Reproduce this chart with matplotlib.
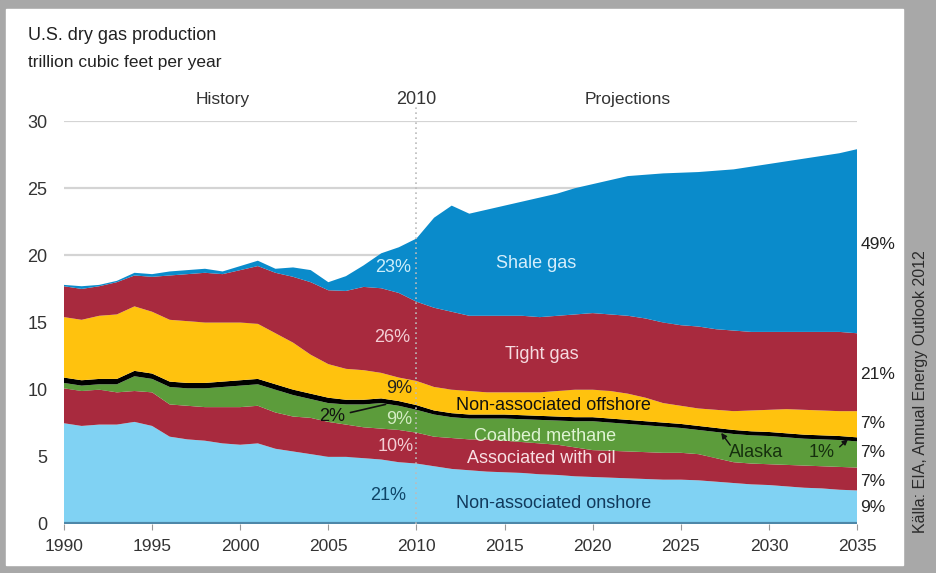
import numpy as np
import matplotlib
matplotlib.use("Agg")
import matplotlib.pyplot as plt
from matplotlib.patches import Rectangle

plt.rcParams['font.family'] = ['Liberation Sans', 'DejaVu Sans']

years = list(range(1990, 2036))

onshore = [7.5, 7.3, 7.4, 7.4, 7.6, 7.3, 6.5, 6.3, 6.2, 6.0,
           5.9, 6.0, 5.6, 5.4, 5.2, 5.0, 5.0, 4.9, 4.8, 4.6,
           4.5, 4.3, 4.1, 4.0, 3.9, 3.85, 3.8, 3.7, 3.65, 3.55,
           3.5, 3.45, 3.4, 3.35, 3.3, 3.3, 3.25, 3.15, 3.05, 2.95,
           2.9, 2.8, 2.7, 2.65, 2.55, 2.5]
assoc_oil = [2.6, 2.6, 2.6, 2.4, 2.3, 2.5, 2.4, 2.5, 2.5, 2.7,
             2.8, 2.8, 2.7, 2.6, 2.7, 2.6, 2.4, 2.3, 2.3, 2.4,
             2.3, 2.2, 2.3, 2.3, 2.4, 2.35, 2.3, 2.3, 2.25, 2.15,
             2.0, 2.0, 2.0, 2.0, 2.0, 2.0, 1.95, 1.75, 1.55, 1.55,
             1.55, 1.6, 1.65, 1.65, 1.7, 1.7]
coalbed = [0.4, 0.4, 0.4, 0.6, 1.1, 1.0, 1.3, 1.3, 1.4, 1.5,
           1.6, 1.6, 1.7, 1.6, 1.4, 1.4, 1.5, 1.7, 1.9, 1.8,
           1.7, 1.65, 1.55, 1.55, 1.55, 1.65, 1.7, 1.75, 1.8, 1.95,
           2.15, 2.1, 2.05, 2.0, 1.95, 1.85, 1.8, 1.95, 2.1, 2.1,
           2.1, 2.05, 2.0, 2.0, 2.0, 1.95]
alaska = [0.4, 0.4, 0.4, 0.4, 0.4, 0.4, 0.4, 0.4, 0.4, 0.4,
          0.4, 0.4, 0.4, 0.4, 0.4, 0.4, 0.35, 0.35, 0.35, 0.35,
          0.35, 0.3, 0.3, 0.3, 0.3, 0.3, 0.3, 0.3, 0.3, 0.3,
          0.3, 0.3, 0.3, 0.3, 0.3, 0.3, 0.3, 0.3, 0.3, 0.3,
          0.3, 0.3, 0.3, 0.3, 0.3, 0.3]
offshore = [4.5, 4.5, 4.7, 4.8, 4.8, 4.6, 4.6, 4.6, 4.5, 4.4,
            4.3, 4.1, 3.8, 3.5, 2.9, 2.5, 2.3, 2.2, 1.9, 1.75,
            1.8, 1.75, 1.75, 1.75, 1.65, 1.65, 1.7, 1.75, 1.9, 2.05,
            2.05, 2.05, 1.95, 1.75, 1.45, 1.35, 1.3, 1.35, 1.4, 1.55,
            1.65, 1.8, 1.85, 1.85, 1.85, 1.95]
tight = [2.3, 2.3, 2.2, 2.4, 2.3, 2.6, 3.3, 3.5, 3.7, 3.6,
         3.9, 4.3, 4.5, 4.9, 5.4, 5.5, 5.8, 6.2, 6.3, 6.3,
         5.9, 5.9, 5.8, 5.6, 5.7, 5.7, 5.7, 5.6, 5.6, 5.6,
         5.7, 5.7, 5.8, 5.9, 6.0, 6.0, 6.1, 6.0, 6.0, 5.85,
         5.8, 5.75, 5.8, 5.85, 5.9, 5.8]
shale = [0.1, 0.2, 0.1, 0.1, 0.2, 0.2, 0.3, 0.3, 0.3, 0.2,
         0.3, 0.4, 0.3, 0.7, 0.9, 0.6, 1.1, 1.6, 2.6, 3.4,
         4.7, 6.7, 7.9, 7.6, 7.9, 8.2, 8.5, 8.9, 9.1, 9.4,
         9.6, 10.0, 10.4, 10.7, 11.1, 11.35, 11.5, 11.8, 12.0, 12.3,
         12.5, 12.7, 12.9, 13.1, 13.3, 13.7]

x_ticks = [1990, 1995, 2000, 2005, 2010, 2015, 2020, 2025, 2030, 2035]
y_ticks = [0, 5, 10, 15, 20, 25, 30]
share_2035 = ["9%", "7%", "7%", "7%", "21%", "49%"]

colors = ['#80D2F3', '#A82A3E', '#5C9C3B', '#000000', '#FFC20E', '#A82A3E', '#0A8BCB']

W, H = 936, 573
fig = plt.figure(figsize=(W / 100, H / 100), dpi=100)

# background frame
bg = fig.add_axes([0, 0, 1, 1], zorder=-10)
bg.set_xlim(0, W); bg.set_ylim(H, 0); bg.axis('off')
bg.add_patch(Rectangle((0, 0), W, H, color='#a8a8a8'))
grad = np.linspace(0.85, 0.55, 50)[None, :].repeat(10, axis=0)
bg.imshow(grad, cmap='gray', vmin=0, vmax=1, extent=(903, W, H, 0), aspect='auto')
topgrad = np.linspace(0.55, 0.8, 10)[:, None].repeat(10, axis=1)
bg.imshow(topgrad, cmap='gray', vmin=0, vmax=1, extent=(0, 903, 9, 0), aspect='auto')
bg.add_patch(Rectangle((6, 9), 897, 556, color='white'))

ax = fig.add_axes([64 / W, 1 - 524 / H, (857 - 64) / W, (524 - 121) / H])
ax.set_xlim(1990, 2035)
ax.set_ylim(0, 30)
ax.set_facecolor('none')
for s in ax.spines.values():
    s.set_visible(False)

for yv in y_ticks[1:]:
    ax.axhline(yv, color='#d4d4d4', lw=1.6, zorder=0)

ax.stackplot(years, onshore, assoc_oil, coalbed, alaska, offshore, tight, shale,
             colors=colors, linewidth=0, zorder=2)
ax.axhline(0, color='#4d87a8', lw=3, zorder=3)

ax.set_yticks(y_ticks)
ax.set_yticklabels([str(v) for v in y_ticks], fontsize=13, color='#333333')
ax.tick_params(axis='y', length=0, pad=12)
ax.set_xticks(x_ticks)
ax.set_xticklabels([str(v) for v in x_ticks], fontsize=12.5, color='#333333')
ax.tick_params(axis='x', length=4, color='#999999', pad=7)

# 2010 divider
ax.plot([2010, 2010], [0, 31.2], ls=(0, (1, 2)), color='#bbbbbb', lw=1.2,
        clip_on=False, zorder=3)
ax.text(2010, 31.6, '2010', ha='center', va='center', fontsize=13, color='#333333')
ax.text(1999.0, 31.6, 'History', ha='center', va='center', fontsize=12.5, color='#333333')
ax.text(2022.0, 31.6, 'Projections', ha='center', va='center', fontsize=12.5, color='#333333')

fig.text(28 / W, 1 - 36 / H, 'U.S. dry gas production', fontsize=13, color='#222222',
         ha='left', va='center')
fig.text(28 / W, 1 - 62 / H, 'trillion cubic feet per year', fontsize=12.5, color='#222222',
         ha='left', va='center')

# in-plot labels
fs = 13
ax.text(2016.8, 19.4, 'Shale gas', ha='center', va='center', fontsize=fs, color='#d6eefc')
ax.text(2008.7, 19.1, '23%', ha='center', va='center', fontsize=fs, color='#cdeefa')
ax.text(2008.6, 13.9, '26%', ha='center', va='center', fontsize=fs, color='#f3cdd4')
ax.text(2017.1, 12.6, 'Tight gas', ha='center', va='center', fontsize=fs, color='#f6dbe0')
ax.text(2009.0, 10.05, '9%', ha='center', va='center', fontsize=fs, color='#222222')
ax.text(2017.8, 8.8, 'Non-associated offshore', ha='center', va='center', fontsize=fs, color='#111111')
ax.text(2005.2, 8.0, '2%', ha='center', va='center', fontsize=fs, color='#111111')
ax.annotate('', xy=(2008.4, 8.95), xytext=(2006.1, 8.25),
            arrowprops=dict(arrowstyle='-', color='#111111', lw=1.2), zorder=5)
ax.text(2009.0, 7.75, '9%', ha='center', va='center', fontsize=fs, color='#d4ecc4')
ax.text(2017.3, 6.55, 'Coalbed methane', ha='center', va='center', fontsize=fs, color='#dff3d2')
ax.text(2008.8, 5.75, '10%', ha='center', va='center', fontsize=fs, color='#f3cdd4')
ax.text(2017.1, 4.85, 'Associated with oil', ha='center', va='center', fontsize=fs, color='#f8e0e4')
ax.text(2008.4, 2.15, '21%', ha='center', va='center', fontsize=fs, color='#0e4467')
ax.text(2017.8, 1.5, 'Non-associated onshore', ha='center', va='center', fontsize=fs, color='#123a5c')
ax.text(2029.3, 5.3, 'Alaska', ha='center', va='center', fontsize=fs, color='#16300e')
ax.text(2033.0, 5.3, '1%', ha='center', va='center', fontsize=fs, color='#16300e')
ax.annotate('', xy=(2027.2, 6.95), xytext=(2027.9, 5.7),
            arrowprops=dict(arrowstyle='-|>', color='#111111', lw=1.0, mutation_scale=8), zorder=5)
ax.annotate('', xy=(2034.6, 6.45), xytext=(2033.9, 5.6),
            arrowprops=dict(arrowstyle='-|>', color='#111111', lw=1.0, mutation_scale=8), zorder=5)

# 2035 shares on the right
share_y = [1.2, 3.2, 5.3, 7.45, 11.1, 20.8]
for lab, yv in zip(share_2035, share_y):
    ax.text(2035.2, yv, lab, ha='left', va='center', fontsize=12.5, color='#222222',
            clip_on=False)

fig.text(921 / W, 1 - 392 / H, 'Källa: EIA, Annual Energy Outlook 2012', rotation=90,
         ha='center', va='center', fontsize=11.5, color='#2a2a2a')

fig.savefig('out.png', dpi=100)
